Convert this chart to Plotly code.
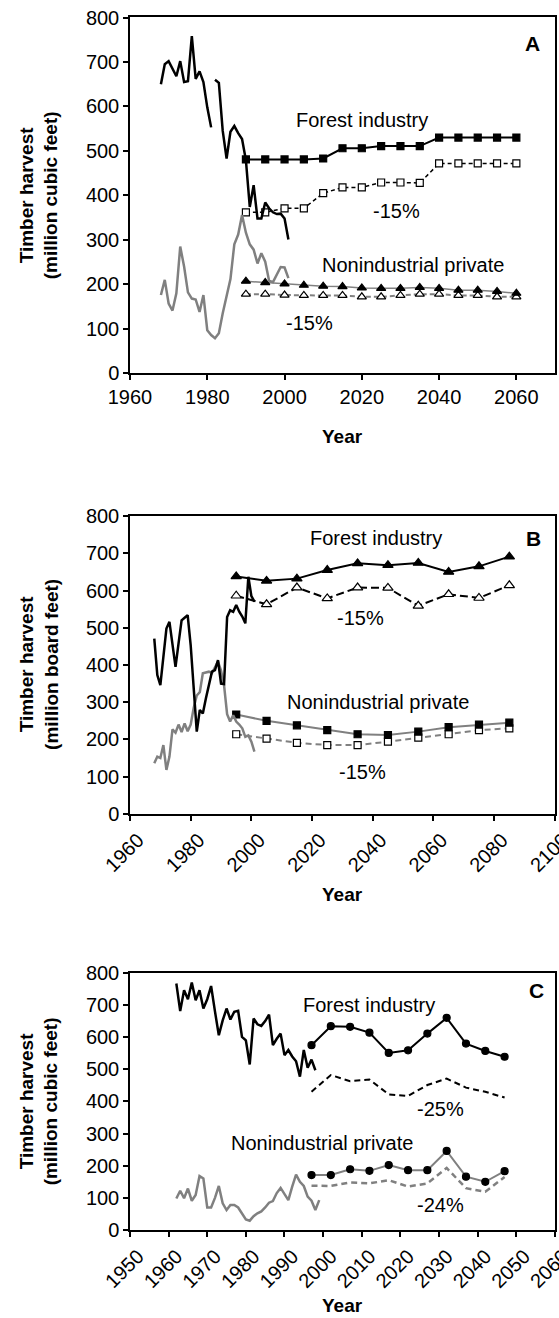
import plotly.graph_objects as go

# ---------------- Panel A (million cubic feet) ----------------
a_fi_hist1_years = list(range(1968, 1982))
a_fi_hist1 = [650, 695, 702, 684, 668, 702, 655, 657, 758, 662, 679, 655, 598, 553]
a_fi_hist2_years = list(range(1982, 2002))
a_fi_hist2 = [660, 653, 545, 483, 543, 556, 540, 527, 479, 374, 423, 348, 348, 384,
              371, 362, 358, 359, 348, 301]
a_nipf_hist_years = list(range(1968, 2002))
a_nipf_hist = [176, 210, 157, 141, 180, 285, 240, 182, 168, 166, 138, 176, 97, 86, 79, 90,
               135, 175, 212, 290, 312, 356, 316, 290, 278, 247, 270, 251, 208, 205, 222,
               239, 238, 214]
a_proj_years = list(range(1990, 2061, 5))
a_fi_base = [481, 481, 481, 481, 483, 506, 506, 511, 511, 511, 530, 530, 530, 530, 530]
a_fi_m15 = [362, 362, 371, 371, 405, 418, 418, 429, 429, 428, 472, 472, 472, 472, 472]
a_nipf_base = [207, 204, 201, 198, 196, 195, 192, 191, 191, 193, 191, 187, 187, 184, 180]
a_nipf_m15 = [178, 178, 176, 175, 175, 175, 172, 172, 175, 178, 178, 175, 175, 172, 172]

# ---------------- Panel B (million board feet) ----------------
b_hist_years = list(range(1968, 2002))
b_fi_hist = [471, 373, 346, 420, 498, 516, 455, 395, 458, 520, 527, 534, 453, 348, 221, 279,
             270, 310, 345, 382, 386, 413, 350, 349, 529, 547, 543, 561, 543, 530, 512, 637,
             585, 570]
b_nipf_hist = [136, 154, 150, 185, 118, 154, 227, 218, 240, 220, 243, 222, 240, 285, 318, 327,
               378, 380, 382, 378, 392, 409, 385, 345, 268, 248, 265, 248, 240, 230, 207, 211,
               194, 167]
b_proj_years = list(range(1995, 2086, 10))
b_fi_base = [638, 626, 632, 655, 673, 668, 674, 650, 665, 691]
b_fi_m15 = [586, 563, 608, 579, 608, 607, 559, 590, 580, 614]
b_nipf_base = [267, 250, 238, 225, 214, 212, 221, 233, 240, 245]
b_nipf_m15 = [214, 202, 191, 185, 185, 194, 205, 214, 225, 230]

# ---------------- Panel C (million cubic feet) ----------------
c_fi_hist_years = list(range(1962, 1999))
c_fi_hist = [767, 681, 746, 718, 770, 715, 746, 689, 718, 759, 680, 606, 652, 689, 655, 679,
             682, 601, 590, 515, 658, 640, 635, 650, 670, 575, 595, 611, 544, 560, 540, 525,
             477, 560, 505, 530, 497]
c_nipf_hist_years = list(range(1962, 2000))
c_nipf_hist = [98, 122, 99, 129, 91, 109, 168, 160, 70, 70, 100, 137, 83, 62, 78, 78, 70, 50,
               33, 29, 43, 52, 58, 70, 85, 90, 115, 131, 112, 93, 135, 172, 150, 137, 104, 91,
               62, 93]
c_proj_years = list(range(1997, 2048, 5))
c_fi_base = [575, 634, 632, 614, 551, 559, 611, 660, 580, 557, 539]
c_fi_m25 = [430, 482, 463, 468, 422, 417, 451, 471, 443, 430, 412]
c_nipf_base = [171, 171, 189, 184, 202, 186, 186, 246, 166, 150, 183]
c_nipf_m24 = [138, 137, 148, 145, 155, 135, 145, 193, 130, 119, 165]

FONT = "Liberation Sans, Arial, sans-serif"
BLACK = "#000000"
GRAY = "#808080"
FS_TICK = 20
FS_LABEL = 20
FS_TITLE = 19

fig = go.Figure()


def line(x, y, ax, color, width, dash="solid", symbol=None, fill=None, size=7):
    xa, ya = ax
    kw = dict(x=x, y=y, xaxis=xa, yaxis=ya, showlegend=False, hoverinfo="skip",
              line=dict(color=color, width=width, dash=dash))
    if symbol:
        kw["mode"] = "lines+markers"
        kw["marker"] = dict(symbol=symbol, size=size, color=fill,
                            line=dict(color=BLACK, width=1.2))
    else:
        kw["mode"] = "lines"
    fig.add_trace(go.Scatter(**kw))


A = ("x", "y")
B = ("x2", "y2")
C = ("x3", "y3")

# Panel A
line(a_proj_years, a_nipf_m15, A, GRAY, 2, "5px,3px", "triangle-up", "white", 8)
line(a_proj_years, a_nipf_base, A, GRAY, 1.5, "solid", "triangle-up", BLACK, 8)
line(a_proj_years, a_fi_m15, A, BLACK, 1.5, "4px,3px", "square", "white", 7)
line(a_proj_years, a_fi_base, A, BLACK, 2, "solid", "square", BLACK, 7)
line(a_nipf_hist_years, a_nipf_hist, A, GRAY, 2.5)
line(a_fi_hist1_years, a_fi_hist1, A, BLACK, 2.5)
line(a_fi_hist2_years, a_fi_hist2, A, BLACK, 2.5)

# Panel B
line(b_proj_years, b_nipf_m15, B, GRAY, 2, "6px,4px", "square", "white", 7)
line(b_proj_years, b_nipf_base, B, GRAY, 2, "solid", "square", BLACK, 7)
line(b_proj_years, b_fi_m15, B, BLACK, 2, "8px,4px", "triangle-up", "white", 9)
line(b_proj_years, b_fi_base, B, BLACK, 2, "solid", "triangle-up", BLACK, 9)
line(b_hist_years, b_nipf_hist, B, GRAY, 2.5)
line(b_hist_years, b_fi_hist, B, BLACK, 2.5)

# Panel C
line(c_proj_years, c_nipf_m24, C, GRAY, 2.5, "6px,4px")
line(c_proj_years, c_nipf_base, C, GRAY, 2, "solid", "circle", BLACK, 7)
line(c_proj_years, c_fi_m25, C, BLACK, 2, "6px,4px")
line(c_proj_years, c_fi_base, C, BLACK, 2, "solid", "circle", BLACK, 7)
line(c_nipf_hist_years, c_nipf_hist, C, GRAY, 2.5)
line(c_fi_hist_years, c_fi_hist, C, BLACK, 2.5)

W, H = 559, 1318
xdom = [130 / W, 555 / W]
ydomA = [1 - 373.3 / H, 1 - 17.3 / H]
ydomB = [1 - 813.9 / H, 1 - 515.9 / H]
ydomC = [1 - 1230 / H, 1 - 972.7 / H]

axis_common = dict(showline=True, linecolor=BLACK, linewidth=1.5, mirror=True,
                   ticks="outside", ticklen=5, tickwidth=1.5, tickcolor=BLACK,
                   showgrid=False, zeroline=False, automargin=False,
                   tickfont=dict(family=FONT, size=FS_TICK, color=BLACK))

fig.update_layout(
    width=W, height=H,
    margin=dict(l=0, r=0, t=0, b=0, pad=0, autoexpand=False),
    paper_bgcolor="white", plot_bgcolor="white",
    font=dict(family=FONT, color=BLACK),
    xaxis=dict(domain=xdom, anchor="y", range=[1960, 2070], tick0=1960, dtick=20,
               tickangle=0, ticklabeloverflow="allow", **axis_common),
    yaxis=dict(domain=ydomA, anchor="x", range=[0, 800.5], dtick=100, **axis_common),
    xaxis2=dict(domain=xdom, anchor="y2", range=[1960, 2100.05], tick0=1960, dtick=20,
                tickangle=-45, ticklabeloverflow="allow", ticklabelshift=8,
                **axis_common),
    yaxis2=dict(domain=ydomB, anchor="x2", range=[0, 800.5], dtick=100, **axis_common),
    xaxis3=dict(domain=xdom, anchor="y3", range=[1950, 2060.05], tick0=1950, dtick=10,
                tickangle=-45, ticklabeloverflow="allow", ticklabelshift=8,
                **axis_common),
    yaxis3=dict(domain=ydomC, anchor="x3", range=[0, 800.5], dtick=100, **axis_common),
)

ann = []


def text(x, y, s, xref, yref, size=FS_LABEL, bold=False, **kw):
    ann.append(dict(x=x, y=y, xref=xref, yref=yref, text=("<b>%s</b>" % s) if bold else s,
                    showarrow=False, font=dict(family=FONT, size=size, color=BLACK), **kw))


# series labels
text(2020, 569, "Forest industry", "x", "y")
text(2029, 365, "-15%", "x", "y")
text(2033.3, 243, "Nonindustrial private", "x", "y")
text(2006.5, 112, "-15%", "x", "y")
text(2064.1, 741, "A", "x", "y", size=21, bold=True)

text(2041, 740, "Forest industry", "x2", "y2")
text(2036, 525, "-15%", "x2", "y2")
text(2041.6, 301, "Nonindustrial private", "x2", "y2")
text(2036.6, 113, "-15%", "x2", "y2")
text(2093, 740, "B", "x2", "y2", size=21, bold=True)

text(2012, 700, "Forest industry", "x3", "y3")
text(2030.5, 378, "-25%", "x3", "y3")
text(1999.8, 270, "Nonindustrial private", "x3", "y3")
text(2030.5, 78, "-24%", "x3", "y3")
text(2055.2, 746, "C", "x3", "y3", size=21, bold=True)

# axis titles
ytitles = [("Timber harvest<br>(million cubic feet)", ydomA),
           ("Timber harvest<br>(million board feet)", ydomB),
           ("Timber harvest<br>(million cubic feet)", ydomC)]
for s, d in ytitles:
    text(14 / W, (d[0] + d[1]) / 2, s, "paper", "paper", size=FS_TITLE, bold=True,
         textangle=-90, xanchor="left", yanchor="middle")

xmid = (xdom[0] + xdom[1]) / 2
for ypx in (437, 894, 1305):
    text(xmid, 1 - ypx / H, "Year", "paper", "paper", size=FS_TITLE, bold=True,
         xanchor="center", yanchor="middle")

fig.update_layout(annotations=ann)
fig.write_html("out.html")
